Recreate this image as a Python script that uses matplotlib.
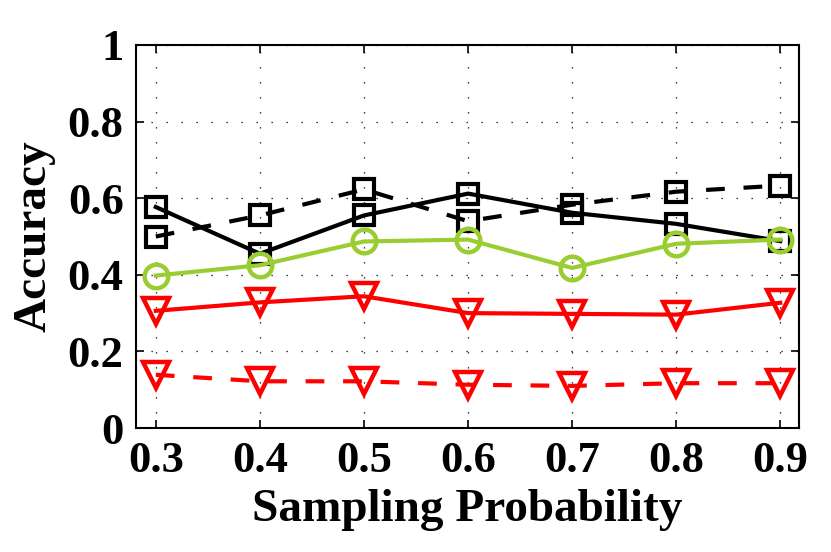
import matplotlib
matplotlib.use("Agg")
import matplotlib.pyplot as plt

prob = [0.3, 0.4, 0.5, 0.6, 0.7, 0.8, 0.9]

black_solid = [0.577, 0.455, 0.555, 0.612, 0.562, 0.533, 0.488]
black_dashed = [0.500, 0.555, 0.623, 0.540, 0.583, 0.617, 0.633]
green_solid = [0.398, 0.425, 0.487, 0.492, 0.418, 0.481, 0.492]
red_solid = [0.306, 0.328, 0.344, 0.300, 0.298, 0.296, 0.327]
red_dashed = [0.139, 0.122, 0.122, 0.113, 0.110, 0.117, 0.117]

green = "#9ACD32"

plt.rcParams['font.family'] = ['Liberation Serif', 'DejaVu Serif']
plt.rcParams['font.weight'] = 'bold'

fig = plt.figure(figsize=(8.31, 5.52), dpi=100)
ax = fig.add_axes([0.1637, 0.2246, 0.7978, 0.6939])

lw = 3.0
dash = (0, (4.5, 4.5))
ax.plot(prob, black_solid, color='black', lw=lw, marker='s', ms=14,
        mfc='none', mew=3)
ax.plot(prob, black_dashed, color='black', lw=lw, ls=dash, marker='s', ms=14,
        mfc='none', mew=3)
ax.plot(prob, green_solid, color=green, lw=lw, marker='o', ms=17,
        mfc='none', mew=3.2)
ax.plot(prob, red_solid, color='red', lw=lw, marker='v', ms=19,
        mfc='none', mew=3.2)
ax.plot(prob, red_dashed, color='red', lw=lw, ls=dash, marker='v', ms=19,
        mfc='none', mew=3.2)

ax.set_xlim(0.281, 0.918)
ax.set_ylim(0, 1)
ax.set_xticks(prob)
ax.set_xticklabels([str(p) for p in prob])
ax.set_yticks([0, 0.2, 0.4, 0.6, 0.8, 1])
ax.set_yticklabels(['0', '0.2', '0.4', '0.6', '0.8', '1'])

ax.grid(True, color='black', ls=(0, (1, 11)), lw=0.9)
ax.tick_params(direction='in', length=6, width=1.2, top=True, right=True,
               labelsize=32)
ax.tick_params(axis='x', pad=9)
ax.tick_params(axis='y', pad=9)
for s in ax.spines.values():
    s.set_linewidth(1.5)

ax.set_xlabel('Sampling Probability', fontsize=34, fontweight='bold', labelpad=6)
ax.set_ylabel('Accuracy', fontsize=34, fontweight='bold', labelpad=9)

fig.savefig('out.png', dpi=100)
